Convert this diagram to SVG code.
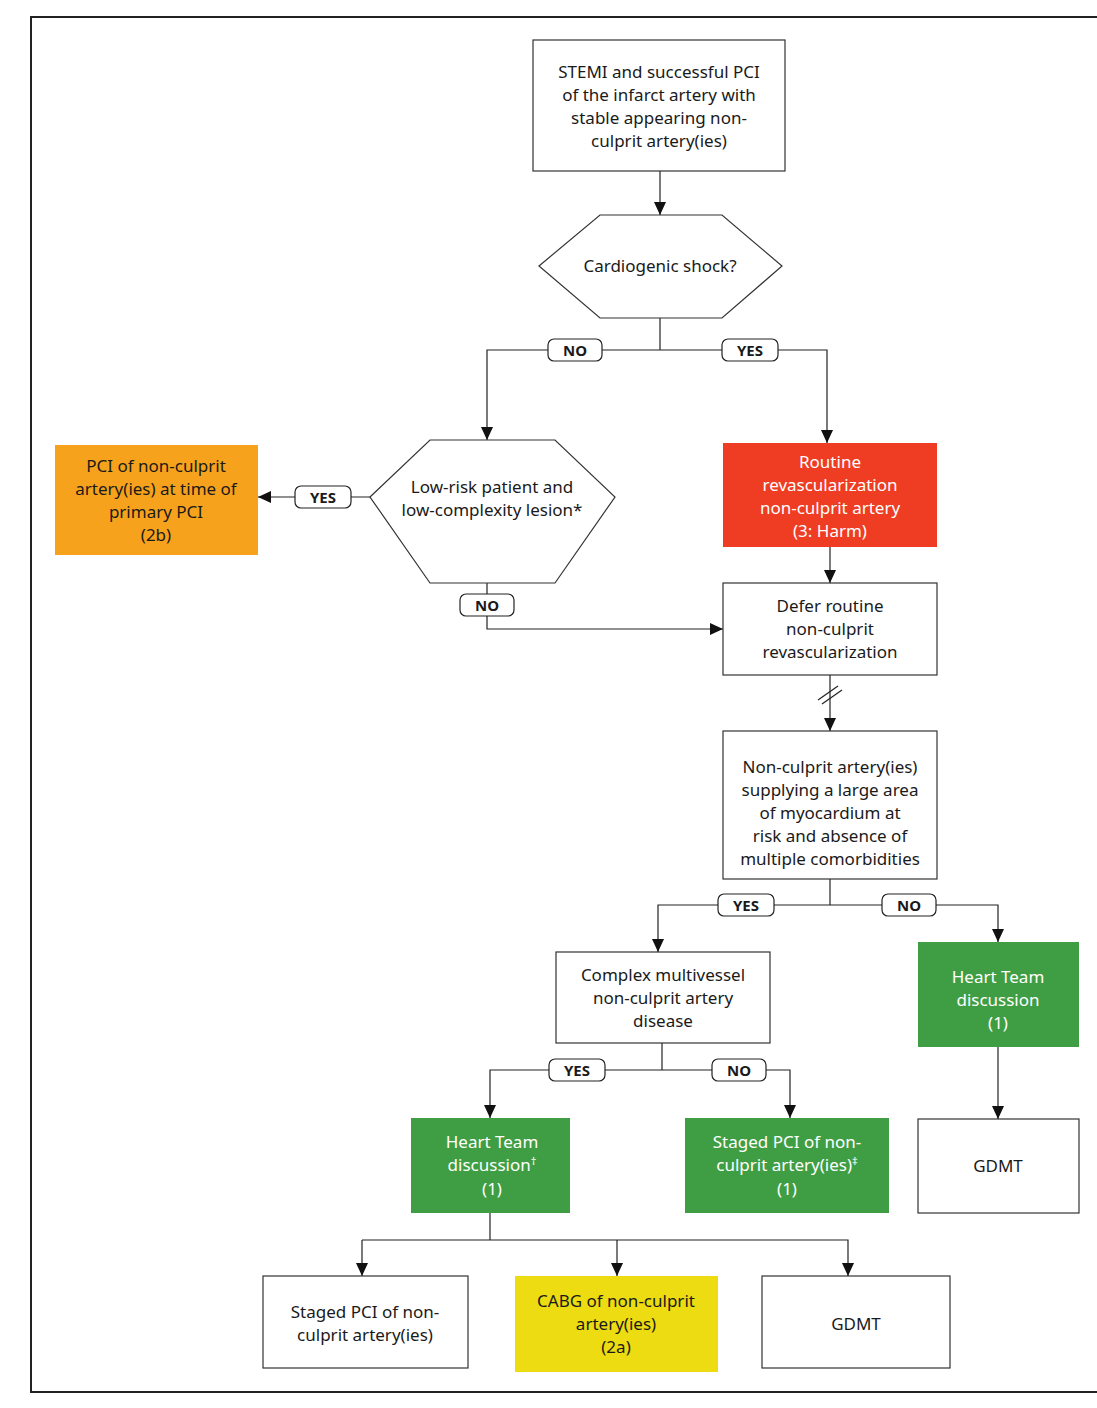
<svg xmlns="http://www.w3.org/2000/svg" width="1097" height="1408" viewBox="0 0 1097 1408">
<style>
text{font-family:"Noto Sans","Liberation Sans",sans-serif;font-size:17px;text-anchor:middle;fill:#1a1a1a}
.w{fill:#fff}
.n{fill:#fff;stroke:#333;stroke-width:1.2}
.c line,.c polyline{stroke:#222;stroke-width:1.2;fill:none}
.lb rect{fill:#fff;stroke:#222;stroke-width:1.2}
.lb text{font-weight:bold;font-size:15px}
</style>
<defs><marker id="a" markerWidth="14" markerHeight="14" refX="13" refY="6" orient="auto" markerUnits="userSpaceOnUse"><path d="M0,0 L13,6 L0,12 z" fill="#111"/></marker></defs>
<rect x="31" y="17" width="1090" height="1375" fill="#fff" stroke="#222" stroke-width="2"/>
<g class="c">
<line x1="660" y1="171" x2="660" y2="215" marker-end="url(#a)"/>
<line x1="660" y1="318" x2="660" y2="350"/>
<polyline points="660,350 487,350 487,440" marker-end="url(#a)"/>
<polyline points="660,350 827,350 827,443" marker-end="url(#a)"/>
<line x1="370" y1="497" x2="258" y2="497" marker-end="url(#a)"/>
<line x1="830" y1="547" x2="830" y2="583" marker-end="url(#a)"/>
<polyline points="487,583 487,629 723,629" marker-end="url(#a)"/>
<line x1="830" y1="675" x2="830" y2="731" marker-end="url(#a)"/>
<line x1="818" y1="700" x2="838" y2="686"/>
<line x1="822" y1="704" x2="842" y2="690"/>
<line x1="830" y1="879" x2="830" y2="905"/>
<polyline points="830,905 658,905 658,952" marker-end="url(#a)"/>
<polyline points="830,905 998,905 998,942" marker-end="url(#a)"/>
<line x1="998" y1="1047" x2="998" y2="1119" marker-end="url(#a)"/>
<line x1="662" y1="1043" x2="662" y2="1070"/>
<polyline points="662,1070 490,1070 490,1118" marker-end="url(#a)"/>
<polyline points="662,1070 790,1070 790,1118" marker-end="url(#a)"/>
<line x1="490" y1="1213" x2="490" y2="1240"/>
<polyline points="362,1240 848,1240 848,1276" marker-end="url(#a)"/>
<line x1="362" y1="1240" x2="362" y2="1276" marker-end="url(#a)"/>
<line x1="617" y1="1240" x2="617" y2="1276" marker-end="url(#a)"/>
</g>
<g class="lb">
<g id="l1"><rect x="548" y="339" width="54" height="22" rx="6"/><text x="575" y="356">NO</text></g>
<g id="l2"><rect x="722" y="339" width="56" height="22" rx="6"/><text x="750" y="356">YES</text></g>
<g id="l3"><rect x="295" y="486" width="56" height="22" rx="6"/><text x="323" y="503">YES</text></g>
<g id="l4"><rect x="460" y="594" width="54" height="22" rx="6"/><text x="487" y="611">NO</text></g>
<g id="l5"><rect x="718" y="894" width="56" height="22" rx="6"/><text x="746" y="911">YES</text></g>
<g id="l6"><rect x="882" y="894" width="54" height="22" rx="6"/><text x="909" y="911">NO</text></g>
<g id="l7"><rect x="549" y="1059" width="56" height="22" rx="6"/><text x="577" y="1076">YES</text></g>
<g id="l8"><rect x="712" y="1059" width="54" height="22" rx="6"/><text x="739" y="1076">NO</text></g>
</g>
<g id="start"><rect class="n" x="533" y="40" width="252" height="131"/>
<text x="659" y="78">STEMI and successful PCI</text><text x="659" y="101">of the infarct artery with</text><text x="659" y="124">stable appearing non-</text><text x="659" y="147">culprit artery(ies)</text></g>
<g id="shock"><polygon class="n" points="539,266 600,215 722,215 782,266 722,318 600,318"/>
<text x="660" y="272">Cardiogenic shock?</text></g>
<g id="lowrisk"><polygon class="n" points="370,497 430,440 555,440 615,497 555,583 430,583"/>
<text x="492" y="493">Low-risk patient and</text><text x="492" y="516">low-complexity lesion*</text></g>
<g id="pci"><rect x="55" y="445" width="203" height="110" fill="#f7a21c"/>
<text x="156" y="472">PCI of non-culprit</text><text x="156" y="495">artery(ies) at time of</text><text x="156" y="518">primary PCI</text><text x="156" y="541">(2b)</text></g>
<g id="routine"><rect x="723" y="443" width="214" height="104" fill="#ee3d23"/>
<text class="w" x="830" y="468">Routine</text><text class="w" x="830" y="491">revascularization</text><text class="w" x="830" y="514">non-culprit artery</text><text class="w" x="830" y="537">(3: Harm)</text></g>
<g id="defer"><rect class="n" x="723" y="583" width="214" height="92"/>
<text x="830" y="612">Defer routine</text><text x="830" y="635">non-culprit</text><text x="830" y="658">revascularization</text></g>
<g id="large"><rect class="n" x="723" y="731" width="214" height="148"/>
<text x="830" y="773">Non-culprit artery(ies)</text><text x="830" y="796">supplying a large area</text><text x="830" y="819">of myocardium at</text><text x="830" y="842">risk and absence of</text><text x="830" y="865">multiple comorbidities</text></g>
<g id="complex"><rect class="n" x="556" y="952" width="214" height="91"/>
<text x="663" y="981">Complex multivessel</text><text x="663" y="1004">non-culprit artery</text><text x="663" y="1027">disease</text></g>
<g id="ht1"><rect x="918" y="942" width="161" height="105" fill="#3f9e44"/>
<text class="w" x="998" y="983">Heart Team</text><text class="w" x="998" y="1006">discussion</text><text class="w" x="998" y="1029">(1)</text></g>
<g id="gdmt1"><rect class="n" x="918" y="1119" width="161" height="94"/><text x="998" y="1172">GDMT</text></g>
<g id="ht2"><rect x="411" y="1118" width="159" height="95" fill="#3f9e44"/>
<text class="w" x="492" y="1148">Heart Team</text><text class="w" x="492" y="1171">discussion<tspan class="w" font-size="11" dy="-6">†</tspan></text><text class="w" x="492" y="1195">(1)</text></g>
<g id="staged1"><rect x="685" y="1118" width="204" height="95" fill="#3f9e44"/>
<text class="w" x="787" y="1148">Staged PCI of non-</text><text class="w" x="787" y="1171">culprit artery(ies)<tspan class="w" font-size="11" dy="-6">‡</tspan></text><text class="w" x="787" y="1195">(1)</text></g>
<g id="staged2"><rect class="n" x="263" y="1276" width="205" height="92"/>
<text x="365" y="1318">Staged PCI of non-</text><text x="365" y="1341">culprit artery(ies)</text></g>
<g id="cabg"><rect x="515" y="1276" width="203" height="96" fill="#eedc12"/>
<text x="616" y="1307">CABG of non-culprit</text><text x="616" y="1330">artery(ies)</text><text x="616" y="1353">(2a)</text></g>
<g id="gdmt2"><rect class="n" x="762" y="1276" width="188" height="92"/><text x="856" y="1330">GDMT</text></g>
</svg>
